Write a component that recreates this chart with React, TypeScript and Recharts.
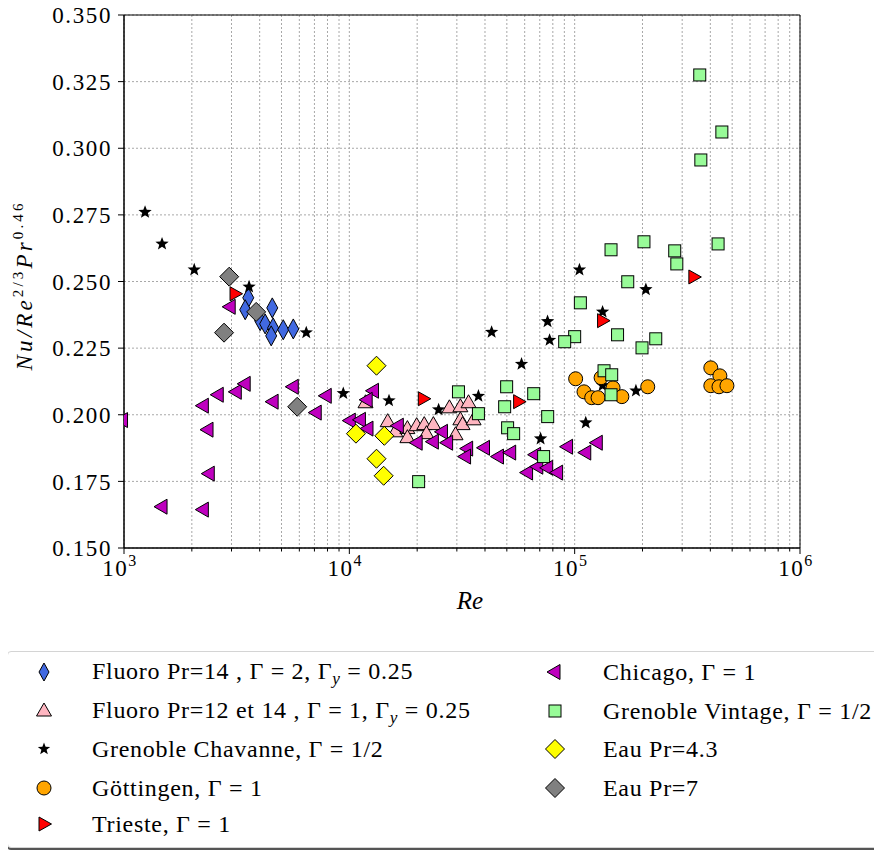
import React from 'react';
import { ScatterChart, Scatter, XAxis, YAxis, CartesianGrid, ReferenceArea } from 'recharts';

// Nu/Re^(2/3)Pr^0.46 versus Re
const fluoro14Re = [3560, 3450, 4550, 4020, 4230, 4590, 4500, 5090, 5640];
const fluoro14Nu = [0.2439, 0.2394, 0.2401, 0.2353, 0.2341, 0.2326, 0.2296, 0.2319, 0.2322];

const fluoro12Re = [11800, 14800, 16000, 18100, 18100, 19900, 21500, 23600, 22000, 27800, 31100, 33800, 31100, 31800, 29600, 35600];
const fluoro12Nu = [0.2045, 0.1974, 0.1936, 0.1948, 0.1914, 0.1959, 0.1963, 0.1963, 0.1929, 0.2026, 0.203, 0.2045, 0.1981, 0.1963, 0.1925, 0.1981];

const chavanneRe = [1240, 1475, 2050, 3590, 6440, 9400, 15000, 24900, 37400, 42800, 58100, 70600, 75800, 77400, 112000, 105000, 133000, 133000, 187000, 207000];
const chavanneNu = [0.276, 0.2641, 0.2544, 0.248, 0.2308, 0.208, 0.2053, 0.2019, 0.207, 0.231, 0.219, 0.191, 0.235, 0.228, 0.197, 0.2544, 0.2386, 0.211, 0.209, 0.247];

const gottingenRe = [101000, 110000, 119000, 127000, 131000, 148000, 162000, 211000, 402000, 441000, 402000, 437000, 474000];
const gottingenNu = [0.2135, 0.2086, 0.2064, 0.2064, 0.2139, 0.2101, 0.2068, 0.2105, 0.2176, 0.2146, 0.2109, 0.2105, 0.2109];

const triesteRe = [3110, 21300, 56400, 133000, 338000];
const triesteNu = [0.2454, 0.206, 0.2049, 0.2353, 0.2517];

const chicagoRe = [985, 2250, 2620, 3150, 3450, 2360, 2390, 1475, 2250, 2960, 4590, 5640, 7130, 7900, 12800, 12000, 10100, 11200, 12100, 16500, 25900, 20000, 23600, 27300, 33500, 32800, 39800, 45900, 52000, 67100, 61800, 68600, 75900, 84000, 93000, 112000, 126000];
const chicagoNu = [0.198, 0.2034, 0.2075, 0.2086, 0.2116, 0.1944, 0.1779, 0.1655, 0.1644, 0.2405, 0.2049, 0.2105, 0.2008, 0.2071, 0.209, 0.2056, 0.1978, 0.1981, 0.1948, 0.1959, 0.1936, 0.1895, 0.1899, 0.1895, 0.1873, 0.1843, 0.1876, 0.1843, 0.1858, 0.185, 0.1783, 0.1805, 0.1801, 0.1783, 0.188, 0.1858, 0.1895];

const vintageRe = [30500, 49900, 48900, 37400, 65800, 50400, 53600, 75900, 72800, 20300, 145000, 203000, 278000, 284000, 172000, 106000, 155000, 229000, 199000, 100000, 90300, 135000, 146000, 145000, 359000, 450000, 363000, 433000];
const vintageNu = [0.2086, 0.2105, 0.203, 0.2004, 0.2079, 0.1951, 0.1929, 0.1993, 0.1843, 0.1749, 0.2619, 0.2649, 0.2615, 0.2566, 0.2499, 0.242, 0.23, 0.2285, 0.2251, 0.2293, 0.2274, 0.2165, 0.215, 0.2075, 0.3275, 0.3061, 0.2956, 0.2641];

const eau43Re = [13200, 10700, 14300, 13200, 14200];
const eau43Nu = [0.2184, 0.1929, 0.1921, 0.1835, 0.1771];

const eau7Re = [2930, 3860, 2780, 5870];
const eau7Nu = [0.2518, 0.2386, 0.2308, 0.203];

const xMajor = [1e3, 1e4, 1e5, 1e6];
const xMinorMult = [2, 3, 4, 5, 6, 7, 8, 9];
const yTicks = [0.15, 0.175, 0.2, 0.225, 0.25, 0.275, 0.3, 0.325, 0.35];

const zip = (re: number[], nu: number[]) => re.map((r, i) => ({ re: r, nu: nu[i] }));

const xTicks = [...xMajor];
xMajor.slice(0, 3).forEach((d) => xMinorMult.forEach((m) => xTicks.push(d * m)));
xTicks.sort((a, b) => a - b);

const FONT = "'Liberation Serif', 'DejaVu Serif', serif";

// marker drawings
const Diamond = ({ cx, cy, w, h, fill }: any) => (
  <path d={`M${cx},${cy - h}L${cx + w},${cy}L${cx},${cy + h}L${cx - w},${cy}Z`} fill={fill} stroke="#000" strokeWidth={1} />
);
const TriUp = ({ cx, cy, fill }: any) => (
  <path d={`M${cx},${cy - 8}L${cx + 7.5},${cy + 5}L${cx - 7.5},${cy + 5}Z`} fill={fill} stroke="#000" strokeWidth={1} />
);
const TriLeft = ({ cx, cy, fill }: any) => (
  <path d={`M${cx - 8},${cy}L${cx + 5},${cy - 7.5}L${cx + 5},${cy + 7.5}Z`} fill={fill} stroke="#000" strokeWidth={1} />
);
const TriRight = ({ cx, cy, fill }: any) => (
  <path d={`M${cx + 7.5},${cy}L${cx - 5},${cy - 7}L${cx - 5},${cy + 7}Z`} fill={fill} stroke="#000" strokeWidth={1} />
);
const Square = ({ cx, cy, fill }: any) => (
  <rect x={cx - 6} y={cy - 6} width={12} height={12} fill={fill} stroke="#000" strokeWidth={1} />
);
const Dot = ({ cx, cy, fill }: any) => <circle cx={cx} cy={cy} r={7} fill={fill} stroke="#000" strokeWidth={1} />;
const Star = ({ cx, cy, r = 7 }: any) => {
  const pts: string[] = [];
  for (let i = 0; i < 10; i++) {
    const rad = i % 2 === 0 ? r : r * 0.42;
    const a = -Math.PI / 2 + (i * Math.PI) / 5;
    pts.push(`${cx + rad * Math.cos(a)},${cy + rad * Math.sin(a)}`);
  }
  return <polygon points={pts.join(' ')} fill="#000" />;
};

const series = [
  { name: 'f14', data: zip(fluoro14Re, fluoro14Nu), draw: (cx: number, cy: number) => <Diamond cx={cx} cy={cy} w={5.5} h={10} fill="#4169e1" /> },
  { name: 'f12', data: zip(fluoro12Re, fluoro12Nu), draw: (cx: number, cy: number) => <TriUp cx={cx} cy={cy} fill="#ffb6c1" /> },
  { name: 'chav', data: zip(chavanneRe, chavanneNu), draw: (cx: number, cy: number) => <Star cx={cx} cy={cy} /> },
  { name: 'gott', data: zip(gottingenRe, gottingenNu), draw: (cx: number, cy: number) => <Dot cx={cx} cy={cy} fill="#ffa500" /> },
  { name: 'tri', data: zip(triesteRe, triesteNu), draw: (cx: number, cy: number) => <TriRight cx={cx} cy={cy} fill="#ff0000" /> },
  { name: 'chic', data: zip(chicagoRe, chicagoNu), draw: (cx: number, cy: number) => <TriLeft cx={cx} cy={cy} fill="#bf00bf" /> },
  { name: 'vint', data: zip(vintageRe, vintageNu), draw: (cx: number, cy: number) => <Square cx={cx} cy={cy} fill="#98fb98" /> },
  { name: 'e43', data: zip(eau43Re, eau43Nu), draw: (cx: number, cy: number) => <Diamond cx={cx} cy={cy} w={9.5} h={9.5} fill="#ffff00" /> },
  { name: 'e7', data: zip(eau7Re, eau7Nu), draw: (cx: number, cy: number) => <Diamond cx={cx} cy={cy} w={9.5} h={9.5} fill="#808080" /> },
];

const XTick = ({ x, y, payload }: any) => {
  const v = payload.value;
  const major = xMajor.includes(v);
  return (
    <g>
      <line x1={x} x2={x} y1={y} y2={y + (major ? 6 : 3.5)} stroke="#000" strokeWidth={1} />
      {major && (
        <text x={x - 4} y={y + 28} textAnchor="middle" fontSize={23} fontFamily={FONT} fill="#000" letterSpacing={1.5}>
          10
          <tspan dy={-10} fontSize={16}>{Math.round(Math.log10(v))}</tspan>
        </text>
      )}
    </g>
  );
};

const Sub = ({ children }: any) => (
  <span style={{ fontStyle: 'italic', fontSize: '0.72em', position: 'relative', top: '0.3em' }}>{children}</span>
);

const legendItems = [
  { col: 0, row: 0, label: <>Fluoro Pr=14 , Γ = 2, Γ<Sub>y</Sub> = 0.25</>, m: (c: number) => <Diamond cx={c} cy={c} w={5} h={9} fill="#4169e1" /> },
  { col: 0, row: 1, label: <>Fluoro Pr=12 et 14 , Γ = 1, Γ<Sub>y</Sub> = 0.25</>, m: (c: number) => <TriUp cx={c} cy={c} fill="#ffb6c1" /> },
  { col: 0, row: 2, label: <>Grenoble Chavanne, Γ = 1/2</>, m: (c: number) => <Star cx={c} cy={c} r={6.5} /> },
  { col: 0, row: 3, label: <>Göttingen, Γ = 1</>, m: (c: number) => <Dot cx={c} cy={c} fill="#ffa500" /> },
  { col: 0, row: 4, label: <>Trieste, Γ = 1</>, m: (c: number) => <TriRight cx={c} cy={c} fill="#ff0000" /> },
  { col: 1, row: 0, label: <>Chicago, Γ = 1</>, m: (c: number) => <TriLeft cx={c} cy={c} fill="#bf00bf" /> },
  { col: 1, row: 1, label: <>Grenoble Vintage, Γ = 1/2</>, m: (c: number) => <Square cx={c} cy={c} fill="#98fb98" /> },
  { col: 1, row: 2, label: <>Eau Pr=4.3</>, m: (c: number) => <Diamond cx={c} cy={c} w={9.5} h={9.5} fill="#ffff00" /> },
  { col: 1, row: 3, label: <>Eau Pr=7</>, m: (c: number) => <Diamond cx={c} cy={c} w={9.5} h={9.5} fill="#808080" /> },
];

const rowY = [20, 59, 97, 136, 172];
const colMarkX = [36, 547];
const colTextX = [84, 595];

export default function App() {
  return (
    <div style={{ position: 'relative', width: 874, height: 842 }}>
      <style>{'html,body{overflow:hidden}'}</style>
      <div style={{ position: 'absolute', left: 0, top: -10 }}>
        <ScatterChart width={874} height={650} margin={{ top: 17, right: 82, bottom: 0, left: 0 }}>
          <CartesianGrid stroke="#a8a8a8" strokeDasharray="2 2" />
          <XAxis
            type="number"
            dataKey="re"
            scale="log"
            domain={[1e3, 1e6]}
            allowDataOverflow
            ticks={xTicks}
            interval={0}
            height={100}
            stroke="#000"
            tickLine={false}
            tickSize={0}
            tickMargin={0}
            tick={<XTick />}
            label={{
              content: () => (
                <text x={462} y={611} textAnchor="middle" fontSize={25} fontStyle="italic" fontFamily={FONT} fill="#000">
                  Re
                </text>
              ),
            }}
          />
          <YAxis
            type="number"
            dataKey="nu"
            domain={[0.15, 0.35]}
            allowDataOverflow
            ticks={yTicks}
            interval={0}
            width={116}
            stroke="#000"
            tickSize={6}
            tickMargin={6}
            tickFormatter={(v: number) => v.toFixed(3)}
            tick={{ fill: '#000', fontSize: 23, fontFamily: FONT, letterSpacing: 1.6 }}
            label={{
              content: () => (
                <text
                  transform="translate(24,289) rotate(-90)"
                  textAnchor="middle"
                  fontSize={23}
                  fontStyle="italic"
                  fontFamily={FONT}
                  fill="#000"
                  textLength={167}
                  lengthAdjust="spacing"
                >
                  Nu/Re
                  <tspan dy={-9} fontSize={15} fontStyle="normal">2/3</tspan>
                  <tspan dy={9}>Pr</tspan>
                  <tspan dy={-9} fontSize={15} fontStyle="normal">0.46</tspan>
                </text>
              ),
            }}
          />
          <ReferenceArea x1={1e3} x2={1e6} y1={0.15} y2={0.35} fill="none" stroke="#000" strokeWidth={1} />
          {series.map((s) => (
            <Scatter
              key={s.name}
              data={s.data}
              isAnimationActive={false}
              shape={(p: any) => s.draw(p.cx, p.cy)}
            />
          ))}
        </ScatterChart>
      </div>
      <div
        style={{
          position: 'absolute',
          left: -1,
          top: 643,
          width: 900,
          height: 195,
          border: '1px solid #d4d4d4',
          borderRadius: 4,
          boxShadow: '0 2px 0 #555',
          background: '#fff',
          fontFamily: FONT,
          fontSize: 24,
          color: '#000',
        }}
      >
        {legendItems.map((it, i) => (
          <React.Fragment key={i}>
            <svg
              width={24}
              height={24}
              style={{ position: 'absolute', left: colMarkX[it.col] - 12, top: rowY[it.row] - 12 }}
            >
              {it.m(12)}
            </svg>
            <div
              style={{
                position: 'absolute',
                left: colTextX[it.col],
                top: rowY[it.row],
                transform: 'translateY(-50%)',
                whiteSpace: 'nowrap',
                lineHeight: '28px',
                letterSpacing: 0.7,
              }}
            >
              {it.label}
            </div>
          </React.Fragment>
        ))}
      </div>
    </div>
  );
}
